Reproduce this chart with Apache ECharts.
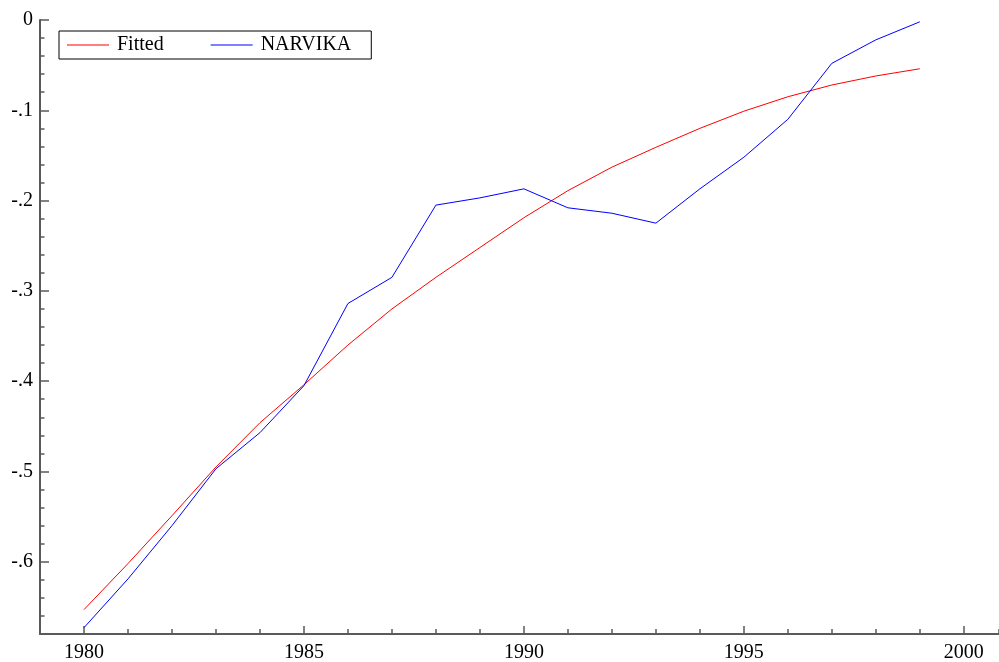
<!DOCTYPE html>
<html>
<head>
<meta charset="utf-8">
<script src="https://cdn.jsdelivr.net/npm/echarts@6/dist/echarts.min.js"></script>
<style>
  html, body { margin: 0; padding: 0; background: #fff; }
  #chart { width: 999px; height: 662px; }
</style>
</head>
<body>
<div id="chart"></div>
<script>
// years on the x axis, one point per year
var years = [1980, 1981, 1982, 1983, 1984, 1985, 1986, 1987, 1988, 1989,
             1990, 1991, 1992, 1993, 1994, 1995, 1996, 1997, 1998, 1999];
// fitted curve (red)
var fitted = [-0.653, -0.602, -0.549, -0.495, -0.446, -0.404, -0.360, -0.320, -0.285, -0.252,
              -0.219, -0.189, -0.163, -0.141, -0.120, -0.101, -0.085, -0.072, -0.062, -0.054];
// observed series (blue)
var narvika = [-0.673, -0.619, -0.560, -0.497, -0.457, -0.405, -0.314, -0.285, -0.205, -0.197,
               -0.187, -0.208, -0.214, -0.225, -0.187, -0.152, -0.110, -0.048, -0.022, -0.002];
// tick labels
var xTicks = [1980, 1985, 1990, 1995, 2000];
var yTicks = [0, -0.1, -0.2, -0.3, -0.4, -0.5, -0.6];

var FONT = "'Liberation Serif', 'Times New Roman', serif";
var AXC = "#5a5a5a";

function pairs(vals) {
  return years.map(function (y, i) { return [y, vals[i]]; });
}

var chart = echarts.init(document.getElementById("chart"), null, { renderer: "canvas" });
chart.setOption({
  animation: false,
  backgroundColor: "#fff",
  textStyle: { fontFamily: FONT },
  // axis runs off the right edge of the picture, so the visible range stops at ~2000.8
  grid: { left: 40, top: 20, right: 0, height: 614, containLabel: false, outerBoundsMode: "none" },
  legend: {
    left: 59, top: 31,
    orient: "horizontal",
    padding: [4, 20, 4, 8],
    itemGap: 47,
    icon: "rect",
    itemWidth: 42, itemHeight: 1.2,
    borderColor: "#000", borderWidth: 1,
    textStyle: { fontFamily: FONT, fontSize: 20, color: "#000", lineHeight: 20, padding: [0, 0, 0, 3] },
    data: ["Fitted", "NARVIKA"]
  },
  xAxis: [
    { // major ticks and labels
      type: "value", min: 1979, max: 2000.8, position: "bottom",
      axisLine: { show: true, onZero: false, lineStyle: { color: AXC, width: 2 } },
      axisTick: { show: true, inside: true, length: 8, customValues: xTicks, lineStyle: { color: AXC, width: 1.5 } },
      axisLabel: { customValues: xTicks, color: "#000", fontSize: 20, fontFamily: FONT, margin: 9,
        formatter: function (v) { return String(v); } },
      splitLine: { show: false }
    },
    { // minor ticks, one per year
      type: "value", min: 1979, max: 2000.8, interval: 1, position: "bottom",
      axisLine: { show: false, onZero: false },
      axisTick: { show: true, inside: true, length: 5, lineStyle: { color: AXC, width: 1.5 } },
      axisLabel: { show: false },
      splitLine: { show: false }
    }
  ],
  yAxis: [
    {
      type: "value", min: -0.68, max: 0, position: "left",
      axisLine: { show: true, onZero: false, lineStyle: { color: AXC, width: 2 } },
      axisTick: { show: true, inside: true, length: 9, customValues: yTicks, lineStyle: { color: AXC, width: 1.5 } },
      axisLabel: {
        customValues: yTicks, color: "#000", fontSize: 20, fontFamily: FONT, margin: 7,
        formatter: function (v) { return v === 0 ? "0" : String(v).replace("0.", "."); }
      },
      splitLine: { show: false }
    },
    { // minor ticks every .02
      type: "value", min: -0.68, max: 0, interval: 0.02, position: "left",
      axisLine: { show: false, onZero: false },
      axisTick: { show: true, inside: true, length: 4.5, lineStyle: { color: AXC, width: 1.5 } },
      axisLabel: { show: false },
      splitLine: { show: false }
    }
  ],
  series: [
    {
      name: "Fitted", type: "line", data: pairs(fitted),
      symbol: "none", smooth: false,
      lineStyle: { color: "#ff0000", width: 1 }, itemStyle: { color: "#ff0000" }
    },
    {
      name: "NARVIKA", type: "line", data: pairs(narvika),
      symbol: "none", smooth: false,
      lineStyle: { color: "#0000ff", width: 1 }, itemStyle: { color: "#0000ff" }
    }
  ]
});
</script>
</body>
</html>
